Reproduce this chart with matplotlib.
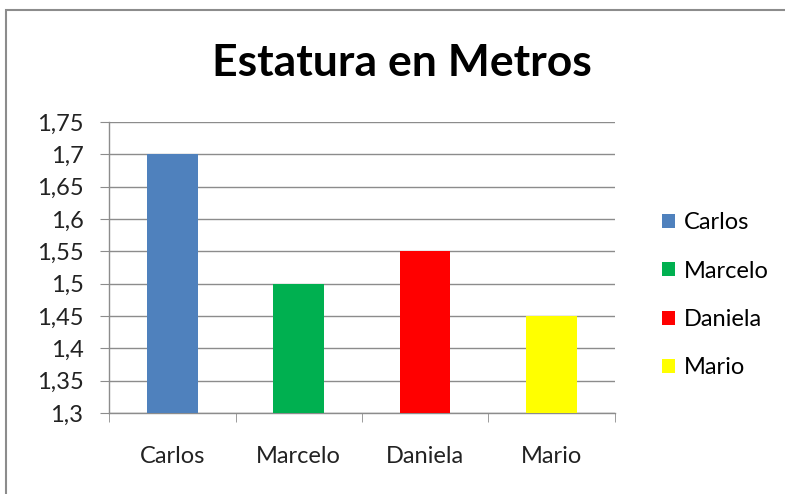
import matplotlib
matplotlib.use("Agg")
import matplotlib.pyplot as plt
from matplotlib.patches import Patch, Rectangle
from matplotlib.ticker import FuncFormatter, MultipleLocator

# data
names = ["Carlos", "Marcelo", "Daniela", "Mario"]
heights = [1.70, 1.50, 1.55, 1.45]
colors = ["#4F81BD", "#00B050", "#FF0000", "#FFFF00"]

plt.rcParams["font.family"] = ["Lato", "DejaVu Sans"]

fig = plt.figure(figsize=(7.85, 4.94), dpi=100)
ax = fig.add_axes([0.139, 0.164, 0.644, 0.589])

x = list(range(len(names)))
ax.bar(x, heights, width=0.4, color=colors, zorder=3)

ax.set_ylim(1.3, 1.75)
ax.set_xlim(-0.5, len(names) - 0.5)
ax.yaxis.set_major_locator(MultipleLocator(0.05))
ax.yaxis.set_major_formatter(FuncFormatter(lambda v, p: f"{v:.2f}".rstrip("0").replace(".", ",")))
ax.grid(axis="y", color="#8C8C8C", linewidth=1, zorder=0)

ax.set_xticks(x, names)
ax.set_xticks([i - 0.5 for i in range(len(names) + 1)], minor=True)
ax.tick_params(axis="x", which="major", length=0, pad=23.5, labelsize=17, colors="#222222")
ax.tick_params(axis="x", which="minor", length=6.5, color="#8C8C8C", direction="out")
ax.tick_params(axis="y", length=6.5, color="#8C8C8C", labelsize=17, colors="#222222", pad=12)

for s in ["top", "right"]:
    ax.spines[s].set_visible(False)
for s in ["left", "bottom"]:
    ax.spines[s].set_color("#8C8C8C")
    ax.spines[s].set_linewidth(1)

fig.text(0.512, 0.873, "Estatura en Metros", ha="center", va="center",
         fontsize=32, fontweight="bold", color="black")

handles = [Patch(facecolor=c, label=n) for n, c in zip(names, colors)]
fig.legend(handles=handles, loc="center left", bbox_to_anchor=(0.828, 0.402),
           frameon=False, fontsize=17, handlelength=0.55, handleheight=0.55,
           handletextpad=0.4, labelspacing=1.16, borderpad=0)

# outer chart border
fig.patches.append(Rectangle((6 / 785, -0.02), 1.2, 1 - 10 / 494 + 0.02,
                             transform=fig.transFigure, fill=False,
                             edgecolor="#8C8C8C", linewidth=1.5))

fig.savefig("out.png", dpi=100)
